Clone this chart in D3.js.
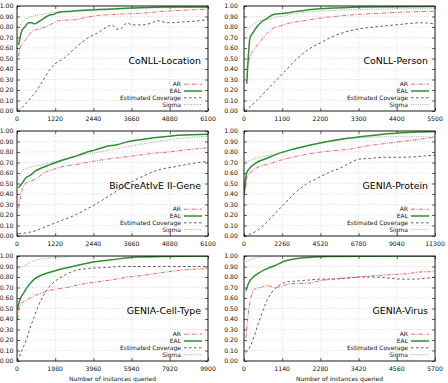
<!DOCTYPE html>
<html>
<head>
<meta charset="utf-8">
<script src="https://cdn.jsdelivr.net/npm/d3@7"></script>
<style>
  body { margin: 0; background: #fff; }
  svg { display: block; font-family: "DejaVu Sans", sans-serif; }
  .tick-label { font-size: 6.2px; fill: #111; }
  .title { font-size: 9.4px; fill: #000; }
  .legend { font-size: 6px; fill: #111; }
</style>
</head>
<body>
<div id="chart"></div>
<script>
// values, [instances queried, score]
const locAR = [[50,0.52],[100,0.60],[200,0.65],[330,0.70],[480,0.76],[690,0.78],[900,0.80],[1170,0.84],[1330,0.86],[1860,0.87],[2180,0.89],[2610,0.91],[3140,0.92],[3890,0.93],[4740,0.95],[5370,0.96],[6100,0.97]];
const locEAL = [[50,0.63],[150,0.76],[250,0.80],[370,0.84],[480,0.84],[560,0.83],[690,0.85],[850,0.88],[1010,0.91],[1170,0.92],[1330,0.94],[1760,0.95],[2180,0.96],[2930,0.97],[3670,0.98],[4740,0.99],[6100,0.99]];
const locCov = [[50,0.00],[370,0.10],[640,0.20],[850,0.30],[1060,0.40],[1220,0.45],[1490,0.50],[1860,0.60],[2290,0.70],[2610,0.75],[2870,0.80],[3030,0.82],[3190,0.78],[3300,0.78],[3460,0.83],[3520,0.84],[3670,0.82],[3990,0.82],[4310,0.84],[4470,0.86],[4850,0.84],[5370,0.85],[5800,0.86],[6100,0.87]];
const locSigma = [[50,0.80],[300,0.88],[1000,0.93],[2000,0.96],[3500,0.98],[6100,0.985]];

const perAR = [[80,0.40],[175,0.52],[320,0.60],[465,0.66],[610,0.72],[800,0.78],[1050,0.81],[1340,0.84],[1720,0.86],[2110,0.88],[2600,0.90],[3280,0.92],[3860,0.93],[4450,0.94],[5500,0.95]];
const perEAL = [[80,0.26],[175,0.70],[270,0.75],[370,0.80],[510,0.85],[660,0.88],[850,0.92],[1140,0.93],[1530,0.95],[2020,0.97],[2600,0.98],[3470,0.99],[5500,0.995]];
const perCov = [[30,0.00],[370,0.10],[660,0.20],[950,0.30],[1240,0.40],[1530,0.50],[1920,0.60],[2210,0.65],[2500,0.70],[2890,0.75],[3280,0.78],[3760,0.80],[4350,0.82],[5130,0.84],[5500,0.83]];
const perSigma = [[30,0.73],[175,0.80],[370,0.85],[760,0.88],[1050,0.90],[1530,0.93],[2110,0.95],[2790,0.96],[3760,0.97],[5500,0.975]];

const geneAR = [[50,0.27],[130,0.40],[270,0.50],[430,0.52],[640,0.55],[850,0.60],[1120,0.63],[1440,0.66],[1860,0.68],[2400,0.71],[2820,0.73],[3350,0.75],[3890,0.77],[4420,0.79],[4850,0.80],[5370,0.82],[6100,0.84]];
const geneEAL = [[50,0.46],[160,0.50],[270,0.55],[430,0.58],[590,0.62],[800,0.65],[1060,0.68],[1330,0.71],[1650,0.74],[1970,0.77],[2240,0.80],[2500,0.82],[2820,0.85],[3190,0.87],[3570,0.90],[3990,0.92],[4520,0.94],[5160,0.96],[6100,0.97]];
const geneCov = [[50,0.02],[590,0.05],[1010,0.10],[1440,0.15],[1860,0.20],[2180,0.25],[2500,0.30],[3030,0.40],[3570,0.50],[4100,0.58],[4520,0.63],[5050,0.66],[5580,0.69],[6100,0.71]];
const geneSigma = [[50,0.55],[160,0.62],[370,0.65],[800,0.68],[1220,0.71],[1650,0.74],[2080,0.77],[2610,0.80],[3140,0.83],[3670,0.86],[4310,0.89],[4950,0.92],[5580,0.94],[6100,0.95]];

const protAR = [[0,0.38],[80,0.45],[160,0.55],[360,0.60],[760,0.65],[1550,0.69],[2350,0.73],[3150,0.76],[4140,0.79],[5140,0.81],[6330,0.83],[7330,0.86],[8330,0.88],[9320,0.90],[10300,0.92],[11300,0.94]];
const protEAL = [[0,0.40],[60,0.50],[160,0.60],[360,0.65],[760,0.70],[1350,0.74],[1950,0.78],[2750,0.82],[3740,0.86],[4940,0.90],[6130,0.93],[7720,0.96],[9120,0.98],[10300,0.99],[11300,0.995]];
const protCov = [[0,0.00],[760,0.05],[1150,0.10],[1750,0.20],[2350,0.30],[2950,0.40],[3740,0.50],[4340,0.55],[4940,0.60],[5730,0.65],[6330,0.70],[6730,0.73],[7520,0.74],[8330,0.75],[9520,0.75],[10500,0.76],[11300,0.77]];
const protSigma = [[0,0.70],[360,0.72],[950,0.75],[1750,0.78],[2750,0.82],[3740,0.86],[4740,0.89],[5930,0.92],[7130,0.94],[8730,0.945],[11300,0.945]];

const cellAR = [[30,0.40],[100,0.50],[250,0.55],[500,0.58],[900,0.62],[1300,0.65],[1900,0.68],[2600,0.70],[3300,0.73],[4000,0.75],[4800,0.77],[5800,0.80],[6700,0.82],[7800,0.85],[8800,0.87],[9900,0.88]];
const cellEAL = [[30,0.50],[150,0.58],[350,0.65],[600,0.72],[900,0.78],[1300,0.82],[1800,0.85],[2400,0.88],[3100,0.91],[3900,0.94],[4700,0.96],[5400,0.975],[6200,0.99],[7500,0.995],[9900,1.00]];
const cellCov = [[30,0.00],[250,0.10],[480,0.20],[650,0.30],[850,0.40],[1050,0.50],[1300,0.60],[1650,0.70],[2050,0.77],[2500,0.82],[3000,0.86],[3600,0.88],[4500,0.89],[5500,0.90],[7000,0.90],[9900,0.90]];
const cellSigma = [[30,0.88],[300,0.90],[700,0.94],[1200,0.97],[1700,0.98],[2400,0.99],[3000,1.00],[9900,1.00]];

const virAR = [[60,0.22],[110,0.40],[170,0.55],[250,0.65],[350,0.69],[500,0.70],[700,0.72],[900,0.70],[1100,0.71],[1300,0.73],[1600,0.74],[1900,0.74],[2200,0.76],[2600,0.78],[3000,0.79],[3400,0.80],[3800,0.81],[4300,0.82],[4800,0.83],[5400,0.85],[5700,0.85]];
const virEAL = [[60,0.67],[150,0.75],[280,0.80],[450,0.84],[620,0.87],[850,0.90],[1000,0.92],[1200,0.95],[1450,0.97],[1700,0.98],[2100,0.99],[2500,0.995],[5700,1.00]];
const virCov = [[60,0.08],[200,0.15],[320,0.25],[420,0.35],[530,0.45],[650,0.55],[760,0.62],[900,0.68],[1050,0.72],[1250,0.75],[1500,0.76],[1900,0.77],[2300,0.78],[2700,0.78],[3100,0.79],[3500,0.80],[3900,0.80],[4300,0.79],[4700,0.78],[5100,0.78],[5500,0.79],[5700,0.80]];
const virSigma = [[60,0.95],[200,0.97],[500,0.99],[900,1.00],[5700,1.00]];

const titles = ["CoNLL-Location", "CoNLL-Person", "BioCreAtIvE II-Gene", "GENIA-Protein", "GENIA-Cell-Type", "GENIA-Virus"];
const xMaxes = [6100, 5500, 6100, 11300, 9900, 5700];
const seriesNames = ["AR", "EAL", "Estimated Coverage", "Sigma"];
const yTicks = d3.range(0, 11).map(i => i / 10);

const panelData = [
    [locAR, locEAL, locCov, locSigma],
    [perAR, perEAL, perCov, perSigma],
    [geneAR, geneEAL, geneCov, geneSigma],
    [protAR, protEAL, protCov, protSigma],
    [cellAR, cellEAL, cellCov, cellSigma],
    [virAR, virEAL, virCov, virSigma]
];

const styles = [
    {stroke: "#e0595f", width: 0.9, dash: "4,1.5,1,1.5"},
    {stroke: "#2f8f2f", width: 1.5, dash: null},
    {stroke: "#333", width: 0.8, dash: "2.5,2.5"},
    {stroke: "#8a8a8a", width: 0.8, dash: "1,1.3"}
];

const svg_width = 448, svg_height = 383;
const colX = [17, 244], rowY = [6, 131, 256];
const pw = 191, ph = 105;

let svg = d3.select("#chart").append("svg")
    .attr("width", svg_width)
    .attr("height", svg_height);

panelData.forEach((series, p) => {
    const col = p % 2, row = Math.floor(p / 2);
    const left = colX[col], top = rowY[row];
    const xMax = xMaxes[p];
    const xTicks = d3.range(0, 6).map(i => xMax * i / 5);

    let x = d3.scaleLinear().domain([0, xMax]).range([0, pw]);
    let y = d3.scaleLinear().domain([0, 1]).range([ph, 0]);

    let g = svg.append("g")
        .attr("transform", "translate(" + left + "," + top + ")");

    g.append("clipPath").attr("id", "clip" + p)
        .append("rect").attr("width", pw).attr("height", ph);

    // dotted grid
    g.selectAll(".gx").data(xTicks.slice(1, -1)).enter().append("line")
        .attr("x1", d => x(d)).attr("x2", d => x(d))
        .attr("y1", 0).attr("y2", ph)
        .attr("stroke", "#c8c8c8").attr("stroke-width", 0.6)
        .attr("stroke-dasharray", "1,1.5");
    g.selectAll(".gy").data(yTicks.slice(1, -1)).enter().append("line")
        .attr("y1", d => y(d)).attr("y2", d => y(d))
        .attr("x1", 0).attr("x2", pw)
        .attr("stroke", "#c8c8c8").attr("stroke-width", 0.6)
        .attr("stroke-dasharray", "1,1.5");

    // axes with inward ticks, labels drawn by hand below
    let xAxis = d3.axisBottom(x).tickValues(xTicks).tickSize(-3).tickFormat("");
    let yAxis = d3.axisLeft(y).tickValues(yTicks).tickSize(-3).tickFormat("");
    g.append("g").attr("transform", "translate(0," + ph + ")").call(xAxis)
        .call(a => a.select(".domain").remove());
    g.append("g").call(yAxis).call(a => a.select(".domain").remove());
    g.append("g").call(d3.axisTop(x).tickValues(xTicks).tickSize(-3).tickFormat(""))
        .call(a => a.select(".domain").remove());
    g.append("g").attr("transform", "translate(" + pw + ",0)")
        .call(d3.axisRight(y).tickValues(yTicks).tickSize(-3).tickFormat(""))
        .call(a => a.select(".domain").remove());
    g.selectAll(".tick line").attr("stroke", "#000").attr("stroke-width", 0.6);

    g.selectAll(".xl").data(xTicks).enter().append("text")
        .attr("class", "tick-label")
        .attr("x", d => x(d)).attr("y", ph + 9.5)
        .attr("text-anchor", "middle")
        .text(d => d3.format("d")(d));
    g.selectAll(".yl").data(yTicks).enter().append("text")
        .attr("class", "tick-label")
        .attr("x", col == 0 ? -3.5 : -6).attr("y", d => y(d) + 2.2)
        .attr("text-anchor", "end")
        .text(d => d3.format(".2f")(d));

    // series
    let line = d3.line()
        .x(d => x(d[0]))
        .y(d => y(d[1]))
        .curve(d3.curveMonotoneX);
    let order = [2, 0, 3, 1];
    for (const i of order) {
        g.append("path")
            .attr("clip-path", "url(#clip" + p + ")")
            .attr("d", line(series[i]))
            .attr("fill", "none")
            .attr("stroke", styles[i].stroke)
            .attr("stroke-width", styles[i].width)
            .attr("stroke-dasharray", styles[i].dash);
    }

    // border
    g.append("rect").attr("width", pw).attr("height", ph)
        .attr("fill", "none").attr("stroke", "#000").attr("stroke-width", 0.9);

    g.append("text").attr("class", "title")
        .attr("x", pw - 7).attr("y", 58)
        .attr("text-anchor", "end")
        .text(titles[p]);

    // legend
    seriesNames.forEach((name, i) => {
        const ly = ph - 26.8 + i * 6.8;
        g.append("text").attr("class", "legend")
            .attr("x", pw - 27).attr("y", ly + 2)
            .attr("text-anchor", "end")
            .text(name);
        g.append("line")
            .attr("x1", pw - 24).attr("x2", pw - 6)
            .attr("y1", ly).attr("y2", ly)
            .attr("stroke", styles[i].stroke)
            .attr("stroke-width", styles[i].width)
            .attr("stroke-dasharray", styles[i].dash);
    });

    if (row == 2) {
        g.append("text").attr("class", "legend")
            .attr("x", pw / 2).attr("y", ph + 20)
            .attr("text-anchor", "middle")
            .text("Number of instances queried");
    }
});
</script>
</body>
</html>
